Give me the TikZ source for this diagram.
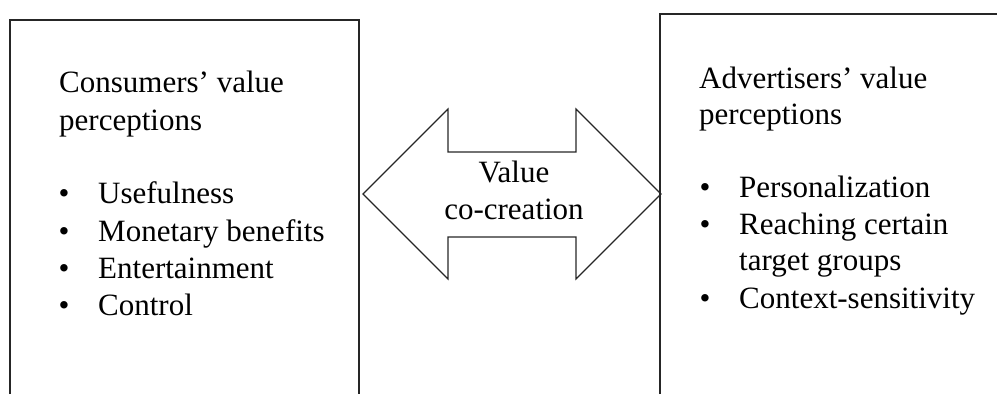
\documentclass[tikz,border=0pt]{standalone}
\usepackage{fontspec}
\setmainfont{Liberation Serif}
\begin{document}
\begin{tikzpicture}[x=1pt,y=-1pt,
  boxline/.style={line width=1.4pt,black!85},
  txt/.style={anchor=base west,inner sep=0pt,font=\fontsize{31}{37}\selectfont},
  bul/.style={anchor=base,inner sep=0pt,font=\fontsize{31}{37}\selectfont}]
\useasboundingbox (0,0) rectangle (997,394);
% boxes (open at the bottom, cut by the page edge)
\draw[boxline] (10,394) -- (10,20) -- (359,20) -- (359,394);
\draw[boxline] (660,394) -- (660,14) -- (997,14);
% double arrow
\draw[line width=1.2pt,black!85]
  (363,194) -- (448,109) -- (448,152) -- (576,152) -- (576,109) -- (661,194)
  -- (576,279) -- (576,237) -- (448,237) -- (448,279) -- cycle;
\node[anchor=base,inner sep=0pt,font=\fontsize{31}{37}\selectfont] (v1) at (514,182) {Value};
\node[anchor=base,inner sep=0pt,font=\fontsize{31}{37}\selectfont] (v2) at (514,219) {co-creation};
% left text
\node[txt] (c1) at (59,92) {Consumers’ value};
\node[txt] (c2) at (59,130) {perceptions};
\node[bul] (b1) at (64,203) {•}; \node[txt] (i1) at (98,203) {Usefulness};
\node[bul] (b2) at (64,241) {•}; \node[txt] (i2) at (98,241) {Monetary benefits};
\node[bul] (b3) at (64,278) {•}; \node[txt] (i3) at (98,278) {Entertainment};
\node[bul] (b4) at (64,315) {•}; \node[txt] (i4) at (98,315) {Control};
% right text
\node[txt] (a1) at (699,88) {Advertisers’ value};
\node[txt] (a2) at (699,124) {perceptions};
\node[bul] (d1) at (705,197) {•}; \node[txt] (j1) at (739,197) {Personalization};
\node[bul] (d2) at (705,234) {•}; \node[txt] (j2) at (739,234) {Reaching certain};
\node[txt] (j3) at (739,270) {target groups};
\node[bul] (d4) at (705,308) {•}; \node[txt] (j4) at (739,308) {Context-sensitivity};
\end{tikzpicture}
\end{document}
